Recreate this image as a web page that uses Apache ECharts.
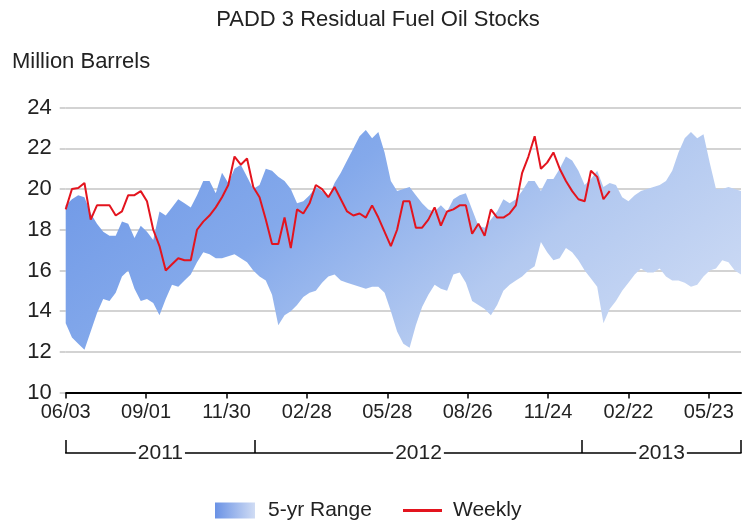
<!DOCTYPE html>
<html>
<head>
<meta charset="utf-8">
<script src="https://cdn.jsdelivr.net/npm/echarts@6/dist/echarts.min.js"></script>
<style>html,body{margin:0;padding:0;background:#fff;}#chart{width:756px;height:524px;}</style>
</head>
<body>
<div id="chart"></div>
<script>
// Weekly observations, starting 06/03/2011 (one value per week)
const rangeUpper = [19.2,19.5,19.7,19.6,18.8,18.3,17.9,17.7,17.7,18.4,18.3,17.6,18.2,17.9,17.5,18.9,18.7,19.1,19.5,19.3,
  19.1,19.7,20.4,20.4,19.8,20.8,20.3,21.0,21.2,20.6,20.0,20.2,21.0,20.9,20.6,20.4,20.0,19.3,19.4,19.7,
  20.1,19.9,19.6,20.3,20.8,21.4,22.0,22.6,22.9,22.5,22.8,21.8,20.4,19.9,20.0,20.1,19.7,19.3,19.0,18.9,
  19.2,18.9,19.5,19.7,19.8,19.0,18.2,18.1,18.5,18.9,19.5,19.3,19.5,19.9,20.4,20.4,19.9,20.5,20.5,21.0,
  21.6,21.4,20.9,20.2,20.5,20.9,20.1,20.3,20.2,19.6,19.4,19.7,19.9,20.0,20.1,20.2,20.4,20.9,21.8,22.5,
  22.8,22.5,22.7,21.3,20.0,20.0,20.1,20.0,19.9];
const rangeLower = [13.4,12.7,12.4,12.1,13.0,13.9,14.6,14.5,14.9,15.7,16.0,15.1,14.5,14.6,14.4,13.8,14.6,15.3,15.2,15.5,
  15.8,16.4,16.9,16.8,16.6,16.6,16.7,16.8,16.6,16.4,16.0,15.7,15.5,14.8,13.3,13.8,14.0,14.3,14.7,14.9,
  15.0,15.4,15.7,15.8,15.5,15.4,15.3,15.2,15.1,15.2,15.2,14.9,14.0,13.0,12.4,12.2,13.3,14.2,14.8,15.3,
  15.1,15.0,15.8,15.9,15.4,14.5,14.3,14.1,13.8,14.3,15.0,15.3,15.5,15.7,16.0,16.2,17.4,16.9,16.5,16.6,
  17.1,16.9,16.5,16.0,15.6,15.2,13.4,14.1,14.5,15.0,15.4,15.8,16.1,15.9,15.9,16.1,15.7,15.5,15.5,15.4,
  15.2,15.3,15.7,16.0,16.1,16.5,16.4,16.0,15.8];
const weekly = [19.0,20.0,20.05,20.3,18.5,19.2,19.2,19.2,18.7,18.9,19.7,19.7,19.9,19.4,18.0,17.2,16.0,16.3,16.6,16.5,
  16.5,18.0,18.4,18.7,19.1,19.6,20.2,21.6,21.2,21.5,20.1,19.6,18.5,17.3,17.3,18.6,17.1,19.0,18.8,19.3,
  20.2,20.0,19.6,20.1,19.5,18.9,18.7,18.8,18.6,19.2,18.6,17.9,17.2,18.0,19.4,19.4,18.1,18.1,18.5,19.1,
  18.2,18.9,19.0,19.2,19.2,17.8,18.3,17.7,19.0,18.6,18.6,18.8,19.2,20.8,21.6,22.6,21.0,21.3,21.8,21.0,
  20.4,19.9,19.5,19.4,20.9,20.6,19.5,19.9];

// Axis ticks: days after 06/03/2011
const tickDays = [0,90,180,270,360,450,540,630,720];
const tickLabels = ['06/03','09/01','11/30','02/28','05/28','08/26','11/24','02/22','05/23'];
const yearBounds = [0,212,578,756];
const yearLabels = ['2011','2012','2013'];

const FONT = "'Liberation Sans', Arial, sans-serif";
const weekDay = i => i * 7;
const bandData = rangeUpper.map((u,i) => [weekDay(i), rangeLower[i], u]);
const weeklyData = weekly.map((v,i) => [weekDay(i), v]);
const yearCenters = yearLabels.map((_,i) => (yearBounds[i] + yearBounds[i+1]) / 2);

const bandGradient = new echarts.graphic.LinearGradient(66, 128, 414, 592, [
  {offset:0, color:'#6c96e6'},
  {offset:0.35, color:'#84a9eb'},
  {offset:0.65, color:'#b3c9f0'},
  {offset:1, color:'#d2def5'}
], true);
const legendGradient = new echarts.graphic.LinearGradient(0,0,1,0,[
  {offset:0, color:'#6a92e5'},{offset:1, color:'#d0dcf4'}
]);

function renderBand(params, api) {
  if (params.dataIndex !== 0) return null;
  const top = [], bottom = [];
  for (let i = 0; i < bandData.length; i++) {
    top.push(api.coord([bandData[i][0], bandData[i][2]]));
    bottom.push(api.coord([bandData[i][0], bandData[i][1]]));
  }
  return {type:'polygon', shape:{points: top.concat(bottom.reverse())},
          style:{fill: bandGradient}, silent:true};
}

const chart = echarts.init(document.getElementById('chart'), null, {renderer:'canvas'});
chart.setOption({
  animation: false,
  backgroundColor: '#fff',
  textStyle: {fontFamily: FONT},
  title: [
    {text:'PADD 3 Residual Fuel Oil Stocks', left:'center', top:4,
     textStyle:{fontSize:22, fontWeight:'normal', color:'#222', fontFamily:FONT}},
    {text:'Million Barrels', left:7, top:46,
     textStyle:{fontSize:22, fontWeight:'normal', color:'#222', fontFamily:FONT}}
  ],
  legend: [
    {data:[{name:'5-yr Range', icon:'rect', itemStyle:{color:legendGradient}}],
     left:210, top:495, itemWidth:40, itemHeight:16, selectedMode:false,
     textStyle:{fontSize:21, color:'#222', fontFamily:FONT, padding:[0,0,0,8]}},
    {data:[{name:'Weekly', icon:'rect', itemStyle:{color:'#e3141e'}}],
     left:398, top:495, itemWidth:39, itemHeight:3, selectedMode:false,
     textStyle:{fontSize:21, color:'#222', fontFamily:FONT, padding:[0,0,0,6]}}
  ],
  grid: {left:65.7, right:15, top:107.7, bottom:131.5},
  xAxis: [
    {type:'value', min:0, max:756, position:'bottom',
     axisLine:{show:true, lineStyle:{color:'#000', width:2}},
     axisTick:{show:true, customValues:tickDays, length:6, lineStyle:{color:'#000', width:1.5}},
     axisLabel:{customValues:tickDays, margin:10, fontSize:20, color:'#222', fontFamily:FONT,
       formatter: v => { const i = tickDays.indexOf(v); return i >= 0 ? tickLabels[i] : ''; }},
     splitLine:{show:false}},
    {type:'value', min:0, max:756, position:'bottom', offset:60.5,
     axisLine:{show:true, lineStyle:{color:'#000', width:1.5}},
     axisTick:{show:true, inside:true, customValues:yearBounds, length:13, lineStyle:{color:'#000', width:1.5}},
     axisLabel:{customValues:yearCenters, margin:0, verticalAlign:'middle', fontSize:21, color:'#222',
       fontFamily:FONT, backgroundColor:'#fff', padding:[0,2],
       formatter: v => { const i = yearCenters.indexOf(v); return i >= 0 ? yearLabels[i] : ''; }},
     splitLine:{show:false}}
  ],
  yAxis: {type:'value', min:10, max:24, interval:2,
    axisLine:{show:false},
    axisTick:{show:true, length:6, lineStyle:{color:'#c4c4c4', width:1.5}},
    axisLabel:{margin:14, fontSize:22, color:'#222', fontFamily:FONT},
    splitLine:{show:true, lineStyle:{color:'#c4c4c4', width:1.5}}},
  series: [
    {name:'5-yr Range', type:'custom', renderItem:renderBand, data:bandData,
     encode:{x:0, y:[1,2]}, itemStyle:{color:'#6c96e6'}, silent:true, z:2},
    {name:'Weekly', type:'line', data:weeklyData, symbol:'none', silent:true,
     lineStyle:{color:'#e3141e', width:2}, itemStyle:{color:'#e3141e'}, z:5}
  ]
});
</script>
</body>
</html>
